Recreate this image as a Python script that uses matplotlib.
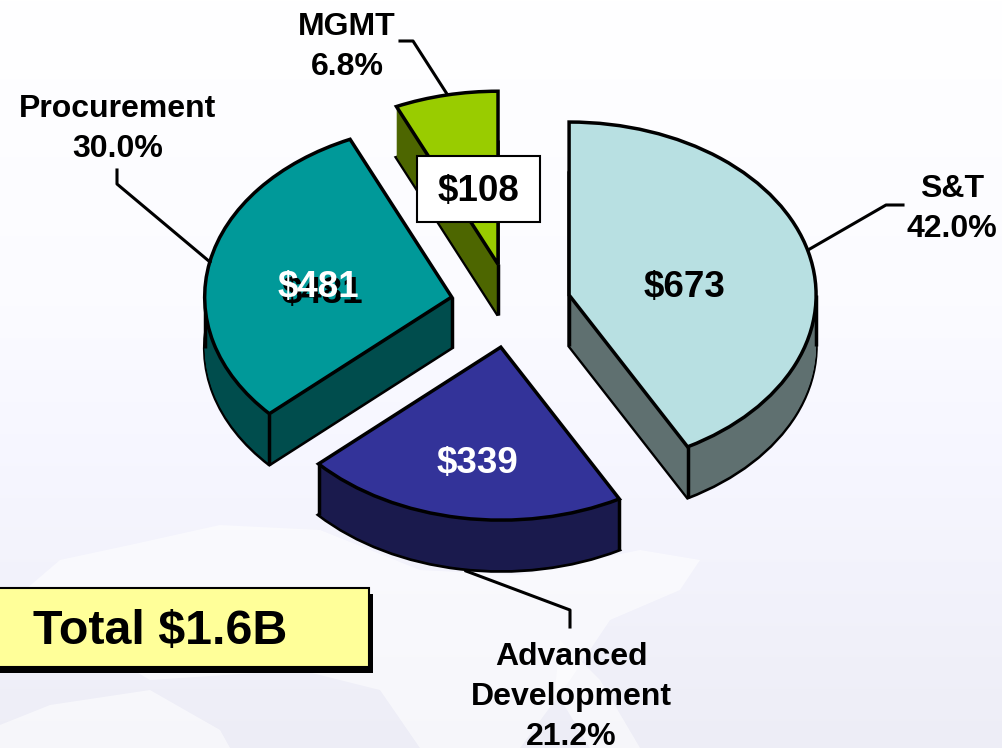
import numpy as np
import matplotlib
matplotlib.use('Agg')
import matplotlib.pyplot as plt
from matplotlib.patches import Polygon, Rectangle

plt.rcParams['font.family'] = ['Liberation Sans', 'DejaVu Sans']

categories = ['S&T', 'Advanced\nDevelopment', 'Procurement', 'MGMT']
values = [673, 339, 481, 108]
percents = ['42.0%', '21.2%', '30.0%', '6.8%']
value_labels = ['$673', '$339', '$481', '$108']
top_colors = ['#b8e0e2', '#333399', '#009999', '#99cc00']
wall_colors = ['#5f7070', '#1a1a4d', '#004d4d', '#4d6600']
total_label = 'Total $1.6B'

W, H = 1002, 748
# pie centre and radii in pixels
cx, cy, rx, ry = 510.7, 305.5, 247, 173
depth = 51


def hidden_by_top(w, x, y):
    # true if the point just under (x, y) lies inside the top face of wedge w
    dx, dy = x - w.center[0], y - 0.02 - w.center[1]
    if np.hypot(dx, dy) >= 1:
        return False
    t = np.degrees(np.arctan2(dy, dx))
    return any(w.theta1 - 0.5 <= t + k <= w.theta2 + 0.5 for k in (-720, -360, 0, 360, 720))


fig = plt.figure(figsize=(W / 100, H / 100), dpi=100)

# background
bg = fig.add_axes([0, 0, 1, 1], zorder=0)
stops = np.interp(np.arange(H), [0, 300, 748], [1.0, 0.985, 0.93])
grad = np.ones((H, 1, 3))
grad[:, 0, 0] = stops
grad[:, 0, 1] = stops
grad[:, 0, 2] = np.minimum(1.0, stops + 0.035)
bg.imshow(grad, aspect='auto', extent=(0, W, H, 0))
land = [
    [(25, 590), (60, 560), (130, 545), (220, 525), (320, 530), (420, 570), (520, 575),
     (640, 550), (700, 560), (680, 590), (610, 620), (570, 680), (520, 748), (420, 748),
     (380, 690), (300, 670), (150, 680), (100, 650)],
    [(0, 725), (50, 705), (150, 690), (220, 730), (230, 748), (0, 748)],
    [(560, 640), (600, 680), (640, 748), (590, 748), (555, 690)],
]
for pts in land:
    bg.add_patch(Polygon(pts, closed=True, fc='white', ec='none', alpha=0.55))
bg.set_xlim(0, W)
bg.set_ylim(H, 0)
bg.axis('off')

# pie, one stack of layers per pixel of depth
ax = fig.add_axes([0, 0, 1, 1], zorder=1)
ax.patch.set_alpha(0)
explode = [0.244] * len(values)
dz = 1 / ry
for i in range(depth + 1):
    is_bottom = i == 0
    ax.pie(values, explode=explode, colors=wall_colors, startangle=90, counterclock=False,
           center=(0, -depth * dz + i * dz),
           wedgeprops=dict(edgecolor='black' if is_bottom else None, linewidth=2.5 if is_bottom else 0,
                           zorder=2, clip_on=False))
wedges, _ = ax.pie(values, explode=explode, colors=top_colors, startangle=90, counterclock=False,
                   wedgeprops=dict(edgecolor='black', linewidth=2.5, zorder=4, clip_on=False))
for w in wedges:
    x0, y0 = w.center
    angles = [w.theta1, w.theta2]
    # silhouette of the cylinder
    for a in (0, 180):
        if any(w.theta1 <= a + k <= w.theta2 for k in (-360, 0, 360)):
            angles.append(a)
    xs = [x0] + [x0 + np.cos(np.radians(a)) for a in angles]
    ys = [y0] + [y0 + np.sin(np.radians(a)) for a in angles]
    for x, y in zip(xs, ys):
        if not hidden_by_top(w, x, y):
            ax.plot([x, x], [y, y - depth * dz], color='black', lw=2.5, zorder=3, clip_on=False,
                    solid_capstyle='butt')
ax.set_aspect('auto')
ax.set_xlim(-cx / rx, (W - cx) / rx)
ax.set_ylim((cy - H) / ry, cy / ry)

# labels, leader lines and boxes in pixel coordinates
ov = fig.add_axes([0, 0, 1, 1], zorder=2)
ov.patch.set_alpha(0)
ov.set_xlim(0, W)
ov.set_ylim(H, 0)
ov.axis('off')

leaders = [
    [(808, 250), (886, 205), (903, 205)],
    [(466, 571), (570, 610), (570, 627)],
    [(210, 262), (117, 184), (117, 170)],
    [(447, 94), (413, 41), (400, 41)],
]
for pts in leaders:
    ov.plot([p[0] for p in pts], [p[1] for p in pts], color='black', lw=2.2)

label_pos = [(952, 209), (571, 697), (118, 129), (347, 47)]
for name, pct, (x, y) in zip(categories, percents, label_pos):
    ov.text(x, y, name + '\n' + pct, ha='center', va='center', fontsize=23, fontweight='bold',
            linespacing=1.45, color='black')

ov.add_patch(Rectangle((417, 156), 123, 66, fc='white', ec='black', lw=1.5))
ov.text(478, 191, value_labels[3], ha='center', va='center', fontsize=26.5, fontweight='bold')
ov.text(685, 287, value_labels[0], ha='center', va='center', fontsize=26.5, fontweight='bold')
ov.text(477, 463, value_labels[1], ha='center', va='center', fontsize=26.5, fontweight='bold', color='white')
ov.text(322, 293, value_labels[2], ha='center', va='center', fontsize=26.5, fontweight='bold', color='black')
ov.text(318, 287, value_labels[2], ha='center', va='center', fontsize=26.5, fontweight='bold', color='white')

ov.add_patch(Rectangle((-10, 594), 383, 79, fc='black', ec='none'))
ov.add_patch(Rectangle((-10, 588), 379, 79, fc='#ffff99', ec='black', lw=1.5))
ov.text(33, 631, total_label, ha='left', va='center', fontsize=34.8, fontweight='bold')

fig.savefig('out.png', dpi=100)
